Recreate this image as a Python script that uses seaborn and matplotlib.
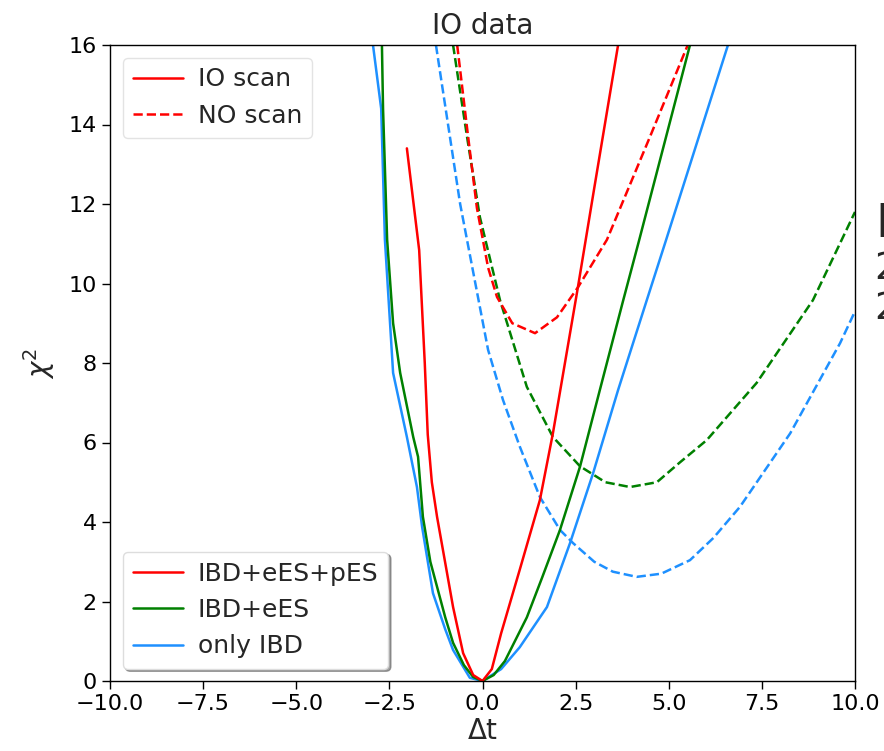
import numpy as np
import pandas as pd
import matplotlib
matplotlib.use("Agg")
import matplotlib.pyplot as plt
import seaborn as sns
from matplotlib.lines import Line2D

# ---- data ----
x_io_all = [-2.03, -1.70, -1.55, -1.47, -1.36, -1.22, -0.79, -0.52, -0.25, 0.0, 0.25, 0.5, 1.0, 1.54, 1.89, 2.56, 3.0, 3.64]
y_io_all = [13.4, 10.84, 8.0, 6.2, 5.0, 4.13, 1.86, 0.7, 0.15, 0.0, 0.3, 1.2, 2.8, 4.55, 6.23, 9.9, 12.4, 16.0]

x_io_ee = [-2.70, -2.67, -2.56, -2.40, -2.21, -1.86, -1.73, -1.60, -1.40, -1.22, -1.0, -0.79, -0.5, -0.25, 0.0, 0.3, 0.6, 1.19, 1.6, 2.08, 2.62, 3.15, 3.77, 4.2, 5.57]
y_io_ee = [16.0, 14.4, 11.1, 9.0, 7.75, 6.14, 5.64, 4.13, 3.0, 2.37, 1.6, 0.96, 0.4, 0.1, 0.0, 0.15, 0.5, 1.6, 2.6, 3.8, 5.4, 7.32, 9.55, 11.07, 16.0]

x_io_ibd = [-2.94, -2.72, -2.62, -2.40, -2.03, -1.76, -1.62, -1.33, -1.0, -0.79, -0.34, 0.0, 0.5, 1.0, 1.73, 2.35, 2.97, 3.64, 4.41, 4.93, 6.59]
y_io_ibd = [16.0, 14.4, 11.1, 7.75, 6.14, 4.88, 3.87, 2.21, 1.3, 0.78, 0.08, 0.0, 0.3, 0.85, 1.86, 3.47, 5.23, 7.32, 9.58, 11.1, 16.0]

x_no_all = [-0.68, -0.4, -0.15, 0.15, 0.39, 0.8, 1.41, 2.0, 2.56, 3.34, 4.5, 5.51]
y_no_all = [16.0, 13.8, 11.9, 10.4, 9.66, 9.0, 8.75, 9.15, 9.9, 11.1, 13.7, 16.0]

x_no_ee = [-0.79, -0.4, -0.07, 0.47, 1.19, 1.89, 2.62, 3.3, 3.96, 4.68, 5.3, 6.02, 7.36, 8.87, 10.0]
y_no_ee = [16.0, 13.6, 11.67, 9.58, 7.4, 6.14, 5.4, 5.0, 4.88, 5.0, 5.5, 6.06, 7.5, 9.58, 11.8]

x_no_ibd = [-1.25, -0.6, 0.15, 0.55, 1.0, 1.54, 2.08, 2.43, 3.0, 3.5, 4.14, 4.8, 5.57, 6.2, 6.91, 8.26, 9.6, 10.0]
y_no_ibd = [16.0, 12.0, 8.33, 7.07, 5.9, 4.63, 3.8, 3.47, 3.0, 2.75, 2.62, 2.7, 3.04, 3.6, 4.38, 6.23, 8.5, 9.3]

channels = ["IBD+eES+pES", "IBD+eES", "only IBD"]
scans = ["IO scan", "NO scan"]
colors = {"IBD+eES+pES": "red", "IBD+eES": "green", "only IBD": "dodgerblue"}
styles = {"IO scan": "-", "NO scan": "--"}

series = {
    ("IO scan", "IBD+eES+pES"): (x_io_all, y_io_all),
    ("IO scan", "IBD+eES"): (x_io_ee, y_io_ee),
    ("IO scan", "only IBD"): (x_io_ibd, y_io_ibd),
    ("NO scan", "IBD+eES+pES"): (x_no_all, y_no_all),
    ("NO scan", "IBD+eES"): (x_no_ee, y_no_ee),
    ("NO scan", "only IBD"): (x_no_ibd, y_no_ibd),
}

sns.set_style("ticks")
plt.rcParams["font.family"] = ["DejaVu Sans"]
plt.rcParams["axes.edgecolor"] = "black"
plt.rcParams["xtick.color"] = "black"
plt.rcParams["ytick.color"] = "black"

fig = plt.figure(figsize=(8.84, 7.51), dpi=100)
ax = fig.add_axes([110 / 884, 1 - 681 / 751, (855 - 110) / 884, (681 - 45) / 751])

order = [("NO scan", "only IBD"), ("NO scan", "IBD+eES"), ("NO scan", "IBD+eES+pES"),
         ("IO scan", "only IBD"), ("IO scan", "IBD+eES"), ("IO scan", "IBD+eES+pES")]
for scan, ch in order:
    xs, ys = series[(scan, ch)]
    df = pd.DataFrame({"dt": xs, "chi2": ys})
    sns.lineplot(data=df, x="dt", y="chi2", ax=ax, color=colors[ch], linestyle=styles[scan],
                 linewidth=1.8, sort=False, estimator=None, legend=False)

ax.set_xlim(-10, 10)
ax.set_ylim(0, 16)
ax.set_xticks(np.arange(-10, 10.01, 2.5))
ax.set_yticks(np.arange(0, 16.01, 2))
for s in ax.spines.values():
    s.set_visible(True)
    s.set_color("black")
    s.set_linewidth(1.0)
ax.tick_params(labelsize=16, length=6, width=1)
ax.set_xlabel("Δt", fontsize=20, labelpad=2)
ax.set_ylabel(r"$\chi^2$", fontsize=20, labelpad=8)
ax.set_title("IO data", fontsize=20, pad=8)

h1 = [Line2D([], [], color="red", linestyle="-", linewidth=1.8),
      Line2D([], [], color="red", linestyle="--", linewidth=1.8)]
leg1 = ax.legend(h1, scans, loc="upper left", fontsize=18, framealpha=0.8, edgecolor="#dddddd",
                 handletextpad=0.6)
ax.add_artist(leg1)
h2 = [Line2D([], [], color=colors[c], linestyle="-", linewidth=1.8) for c in channels]
leg2 = ax.legend(h2, channels, loc="lower left", fontsize=18, shadow=True, framealpha=1.0,
                 edgecolor="#dddddd", handletextpad=0.6)

fig.text(875 / 884, 1 - 238 / 751, "IO", fontsize=34, va="baseline", ha="left")
fig.text(874 / 884, 1 - 279 / 751, "2σ", fontsize=27, va="baseline", ha="left")
fig.text(874 / 884, 1 - 320 / 751, "2σ", fontsize=27, va="baseline", ha="left")

fig.savefig("out.png", dpi=100)
